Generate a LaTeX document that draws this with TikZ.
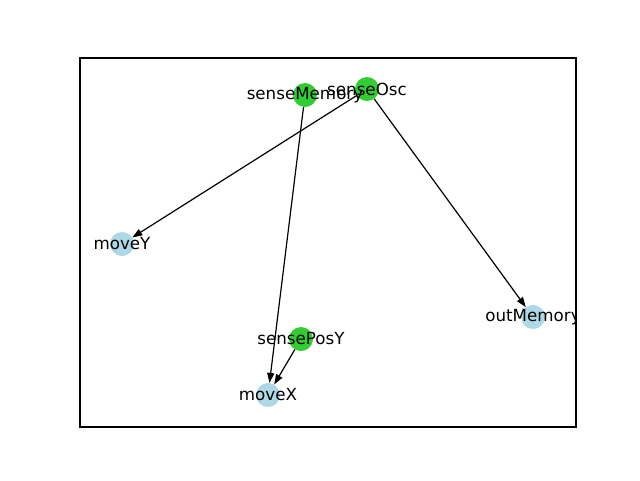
\documentclass[tikz,border=0pt]{standalone}
\usepackage{fontspec}
\setmainfont{DejaVu Sans}
\usetikzlibrary{arrows.meta}
\definecolor{ngreen}{HTML}{32CD32}
\definecolor{nblue}{HTML}{ADD8E6}
\begin{document}
\begin{tikzpicture}[x=1pt,y=-1pt,
  vert/.style={circle,minimum size=24pt,inner sep=0pt,draw=none},
  gv/.style={vert,fill=ngreen},
  bv/.style={vert,fill=nblue},
  lab/.style={inner sep=0pt,font=\fontsize{16.7}{18}\selectfont},
  edge/.style={line width=1.2pt,-{Stealth[length=10pt,width=7pt,inset=0pt]}}]
\useasboundingbox (0,0) rectangle (640,480);
\draw[line width=1.1pt] (80,58) rectangle (576,427);
\node[gv] (senseMemory) at (305,95) {};
\node[gv] (senseOsc) at (367,89) {};
\node[bv] (moveY) at (122,244) {};
\node[bv] (outMemory) at (533,317) {};
\node[gv] (sensePosY) at (301,339) {};
\node[bv] (moveX) at (268,395) {};
\draw[edge] (senseOsc) -- (moveY);
\draw[edge] (senseOsc) -- (outMemory);
\draw[edge] (senseMemory) -- (moveX);
\draw[edge] (sensePosY) -- (moveX);
\begin{scope}
\clip (80,58) rectangle (576,427);
\node[lab] (l1) at (senseMemory) {senseMemory};
\node[lab] (l2) at (senseOsc) {senseOsc};
\node[lab] (l3) at (moveY) {moveY};
\node[lab] (l4) at (outMemory) {outMemory};
\node[lab] (l5) at (sensePosY) {sensePosY};
\node[lab] (l6) at (moveX) {moveX};
\end{scope}
\end{tikzpicture}
\end{document}
